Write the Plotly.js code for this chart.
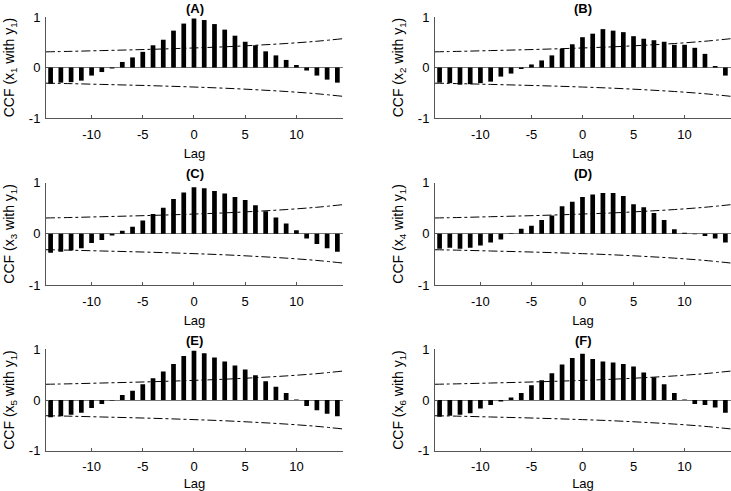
<!DOCTYPE html>
<html>
<head>
<meta charset="utf-8">
<script src="https://cdn.plot.ly/plotly-3.0.1.min.js"></script>
<style>html,body{margin:0;padding:0;background:#fff;}#chart{width:731px;height:491px;}</style>
</head>
<body>
<div id="chart"></div>
<script>
const lags = [-14,-13,-12,-11,-10,-9,-8,-7,-6,-5,-4,-3,-2,-1,0,1,2,3,4,5,6,7,8,9,10,11,12,13,14];

const ccfA = [-0.32,-0.30,-0.29,-0.26,-0.16,-0.09,-0.02,0.11,0.20,0.31,0.44,0.55,0.73,0.87,0.97,0.94,0.86,0.75,0.63,0.51,0.44,0.32,0.24,0.15,0.05,-0.06,-0.16,-0.24,-0.30];
const ccfB = [-0.30,-0.31,-0.34,-0.33,-0.31,-0.28,-0.18,-0.12,-0.03,0.06,0.14,0.24,0.37,0.46,0.60,0.67,0.76,0.73,0.70,0.62,0.57,0.54,0.51,0.45,0.45,0.39,0.27,0.03,-0.16];
const ccfC = [-0.37,-0.35,-0.32,-0.28,-0.18,-0.12,-0.03,0.06,0.14,0.26,0.39,0.51,0.68,0.81,0.91,0.89,0.84,0.79,0.72,0.66,0.56,0.44,0.32,0.20,0.07,-0.09,-0.20,-0.28,-0.35];
const ccfD = [-0.29,-0.27,-0.29,-0.27,-0.23,-0.17,-0.11,0.01,0.10,0.16,0.27,0.36,0.54,0.63,0.72,0.77,0.80,0.80,0.74,0.58,0.52,0.41,0.27,0.09,0.02,-0.01,-0.04,-0.09,-0.17];
const ccfE = [-0.34,-0.32,-0.29,-0.25,-0.16,-0.08,-0.01,0.10,0.18,0.31,0.43,0.56,0.71,0.87,0.97,0.92,0.84,0.76,0.68,0.60,0.49,0.37,0.26,0.14,0.01,-0.12,-0.20,-0.27,-0.32];
const ccfF = [-0.33,-0.31,-0.29,-0.26,-0.17,-0.10,-0.03,0.05,0.14,0.29,0.39,0.53,0.70,0.83,0.91,0.81,0.76,0.74,0.71,0.66,0.54,0.45,0.31,0.14,0.01,-0.08,-0.10,-0.15,-0.25];

// confidence bound
const boundLags = [-14.5,-12,-9,-6,-3,0,3,6,9,12,14.5];
const boundUpper = [0.31,0.32,0.335,0.35,0.367,0.387,0.41,0.44,0.475,0.52,0.57];
const boundLower = [-0.31,-0.32,-0.335,-0.35,-0.367,-0.387,-0.41,-0.44,-0.475,-0.52,-0.57];

const panelLabels = ['(A)','(B)','(C)','(D)','(E)','(F)'];
const yTitles = ['CCF (x<sub>1</sub> with y<sub>1</sub>)','CCF (x<sub>2</sub> with y<sub>1</sub>)','CCF (x<sub>3</sub> with y<sub>1</sub>)','CCF (x<sub>4</sub> with y<sub>1</sub>)','CCF (x<sub>5</sub> with y<sub>1</sub>)','CCF (x<sub>6</sub> with y<sub>1</sub>)'];
const xTickVals = [-10,-5,0,5,10];
const xTickText = ['-10','-5','0','5','10'];
const yTickVals = [-1,0,1];
const yTickText = ['-1','0','1'];

const series = [ccfA, ccfB, ccfC, ccfD, ccfE, ccfF];
const W = 731, H = 491;
const colDom = [[46/W, 343/W],[435/W, 1.0]];
const rowPx = [[17,118],[182.7,285],[349.3,450.7]];
const rowDom = rowPx.map(r => [1 - r[1]/H, 1 - r[0]/H]);

const fam = 'Liberation Sans, Arial, sans-serif';
const font = {family: fam, size: 13, color: '#000'};
const yTitleFont = {family: fam, size: 14, color: '#000'};
const traces = [];
const layout = {
  width: W, height: H,
  margin: {l: 0, r: 0, t: 0, b: 0},
  paper_bgcolor: '#fff', plot_bgcolor: '#fff',
  showlegend: false,
  font: font,
  annotations: []
};

series.forEach((vals, i) => {
  const n = i + 1;
  const xa = n === 1 ? 'x' : 'x' + n;
  const ya = n === 1 ? 'y' : 'y' + n;
  const col = i % 2, row = Math.floor(i / 2);
  traces.push({type: 'bar', x: lags, y: vals, xaxis: xa, yaxis: ya,
    marker: {color: '#000', line: {width: 0}}, width: 0.46, hoverinfo: 'skip'});
  traces.push({type: 'scatter', mode: 'lines', x: boundLags, y: boundUpper, xaxis: xa, yaxis: ya,
    line: {color: '#000', width: 1, dash: 'dashdot', shape: 'spline'}, hoverinfo: 'skip'});
  traces.push({type: 'scatter', mode: 'lines', x: boundLags, y: boundLower, xaxis: xa, yaxis: ya,
    line: {color: '#000', width: 1, dash: 'dashdot', shape: 'spline'}, hoverinfo: 'skip'});
  const xk = n === 1 ? 'xaxis' : 'xaxis' + n;
  const yk = n === 1 ? 'yaxis' : 'yaxis' + n;
  layout[xk] = {
    domain: colDom[col], anchor: ya, range: [-14.45, 14.55],
    tickmode: 'array', tickvals: xTickVals, ticktext: xTickText,
    ticks: 'inside', ticklen: 3, tickcolor: '#555', tickwidth: 1,
    showline: true, linecolor: '#555', linewidth: 1, mirror: false,
    showgrid: false, zeroline: false, tickfont: font, ticklabelstandoff: 4,
    title: {text: 'Lag', font: font, standoff: 8}
  };
  layout[yk] = {
    domain: rowDom[row], anchor: xa, range: [-1, 1],
    tickmode: 'array', tickvals: yTickVals, ticktext: yTickText,
    ticks: 'inside', ticklen: 3, tickcolor: '#555', tickwidth: 1,
    showline: true, linecolor: '#555', linewidth: 1, mirror: false,
    showgrid: false, zeroline: true, zerolinecolor: '#777', zerolinewidth: 1,
    tickfont: font, ticklabelstandoff: 2,
    title: {text: yTitles[i], font: yTitleFont, standoff: 10}
  };
  layout.annotations.push({
    text: '<b>' + panelLabels[i] + '</b>', xref: 'paper', yref: 'paper',
    x: (colDom[col][0] + colDom[col][1]) / 2, y: rowDom[row][1] + 9/H,
    xanchor: 'center', yanchor: 'middle', showarrow: false, font: font
  });
});

Plotly.newPlot('chart', traces, layout, {staticPlot: true, displayModeBar: false});
</script>
</body>
</html>
